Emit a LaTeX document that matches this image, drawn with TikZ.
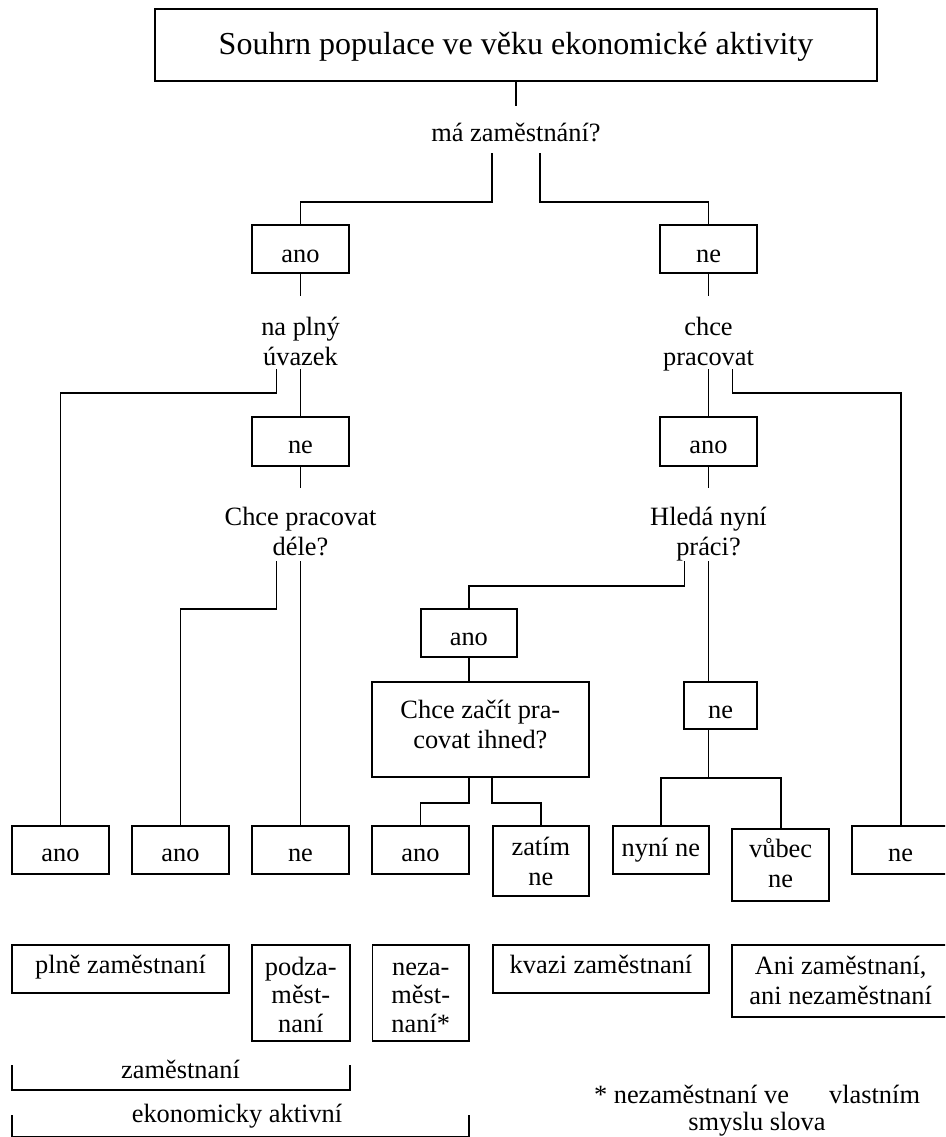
\documentclass[tikz,border=0pt]{standalone}
\usepackage{fontspec}
\setmainfont{Liberation Serif}
\usetikzlibrary{calc}
\newcommand\fBody{\fontsize{26.4}{30}\selectfont}
\newcommand\fBodyT{\fontsize{26.4}{28.5}\selectfont}
\newcommand\fTitle{\fontsize{32}{38}\selectfont}
\newcommand\ml[1]{\begin{tabular}[t]{@{}c@{}}#1\end{tabular}}
% style, name, x1, x2, y1 (top), yb (first baseline), y2 (bottom), text
\newcommand\mkbox[8]{%
 \pgfmathsetmacro\mkW{#4-#3}%
 \pgfmathsetmacro\mkH{#6-#5}%
 \pgfmathsetmacro\mkD{#7-#6}%
 \pgfmathsetmacro\mkX{(#3+#4)/2}%
 \node[#1, minimum width=\mkW pt, text height=\mkH pt, text depth=\mkD pt, anchor=base] (#2) at (\mkX,#6) {#8};}
\tikzset{
 boxst/.style={draw, line width=1.9pt, inner sep=0pt, minimum height=0pt, font=\fBody},
 questst/.style={inner sep=0pt, minimum height=0pt, font=\fBody},
 connst/.style={line width=1.9pt},
}
\begin{document}
\begin{tikzpicture}[x=1pt,y=-1pt]
\useasboundingbox (0,0) rectangle (945,1137);
\clip (0,0) rectangle (945,1137);
% title and top question
\mkbox{boxst, font=\fTitle}{T}{155}{877}{9.3}{55}{81}{Souhrn populace ve věku ekonomické aktivity}
\mkbox{questst}{q1}{466}{566}{106}{142}{153}{má zaměstnání?}
% second level
\mkbox{boxst}{a1}{252}{349}{225}{262}{273}{ano}
\mkbox{boxst}{n1}{660}{757}{225}{262}{273}{ne}
\mkbox{questst}{q2}{252}{349}{296}{335}{369}{\ml{na plný\\úvazek}}
\mkbox{questst}{q4}{660}{757}{296}{335}{369}{\ml{chce\\pracovat}}
\mkbox{boxst}{n2}{252}{349}{417}{453}{466}{ne}
\mkbox{boxst}{a2}{660}{757}{417}{453}{466}{ano}
\mkbox{questst}{q3}{252}{349}{488}{525}{561}{\ml{Chce pracovat\\déle?}}
\mkbox{questst}{q5}{660}{757}{488}{525}{561}{\ml{Hledá nyní\\práci?}}
\mkbox{boxst}{a3}{421}{516.7}{609}{645}{657}{ano}
\mkbox{boxst}{c}{372}{588.7}{681.7}{718}{777}{\ml{Chce začít pra-\\covat ihned?}}
\mkbox{boxst}{n3}{684.3}{756.7}{681.7}{718}{729.3}{ne}
% answer row
\mkbox{boxst}{b1}{12}{109}{825.7}{861.7}{874}{ano}
\mkbox{boxst}{b2}{132}{229}{825.7}{861.7}{874}{ano}
\mkbox{boxst}{b3}{252}{349}{825.7}{861.7}{874}{ne}
\mkbox{boxst}{b4}{372}{469}{825.7}{861.7}{874}{ano}
\mkbox{boxst}{b5}{492.7}{589}{825.7}{855}{896}{\ml{zatím\\ne}}
\mkbox{boxst}{b6}{612.7}{709}{825.7}{856}{874}{nyní ne}
\mkbox{boxst}{b7}{732.3}{829}{829}{857}{900.7}{\ml{vůbec\\ne}}
\mkbox{boxst}{b8}{852.3}{949}{825.7}{861.7}{874}{ne}
% result row
\mkbox{boxst}{r1}{12}{229}{945}{973}{993}{plně zaměstnaní}
\mkbox{boxst, font=\fBodyT}{r2}{252}{349.6}{945}{975}{1041}{\ml{podza-\\měst-\\naní}}
\mkbox{boxst, font=\fBodyT}{r3}{372.5}{469}{945}{975}{1041}{\ml{neza-\\měst-\\naní*}}
\mkbox{boxst}{r4}{493}{709}{945}{973}{993}{kvazi zaměstnaní}
\mkbox{boxst}{r5}{732.4}{949}{945}{974}{1017}{\ml{Ani zaměstnaní,\\ani nezaměstnaní}}
% connectors
\draw[connst] (T.south) -- (q1.north);
\draw[connst] ([xshift=-24pt]q1.south) -- ++(0,49) -| (a1.north);
\draw[connst] ([xshift=24pt]q1.south) -- ++(0,49) -| (n1.north);
\draw[connst] (a1.south) -- (q2.north);
\draw[connst] (n1.south) -- (q4.north);
\draw[connst] ([xshift=-24pt]q2.south) -- ++(0,24) -| (b1.north);
\draw[connst] (q2.south) -- (n2.north);
\draw[connst] (n2.south) -- (q3.north);
\draw[connst] ([xshift=-24pt]q3.south) -- ++(0,48) -| (b2.north);
\draw[connst] (q3.south) -- (b3.north);
\draw[connst] (q4.south) -- (a2.north);
\draw[connst] ([xshift=24pt]q4.south) -- ++(0,24) -| (b8.north);
\draw[connst] (a2.south) -- (q5.north);
\draw[connst] ([xshift=-24pt]q5.south) -- ++(0,24.7) -| (a3.north);
\draw[connst] (q5.south) -- (q5.south |- n3.north);
\draw[connst] (a3.south) -- (a3.south |- c.north);
\draw[connst] (c.south -| a3.south) -- ++(0,25) -| (b4.north);
\draw[connst] (c.south -| b5.west) -- ++(0,25) -| (b5.north);
\draw[connst] (n3.south -| q5.south) -- ++(0,48) coordinate (nj) -| (b6.north);
\draw[connst] (nj) -| (b7.north);
% brackets
\node[questst, anchor=base] (lz) at (180.5,1078) {zaměstnaní};
\draw[connst] (12,1065) -- (12,1090) -- (349.6,1090) -- (349.6,1065);
\node[questst, anchor=base] (le) at (237,1122) {ekonomicky aktivní};
\draw[connst] (12,1115) -- (12,1137) -- (469,1137) -- (469,1115);
% footnote
\node[questst, font=\fontsize{26.4}{27}\selectfont, anchor=base] (fn) at (757,1103)
 {\ml{\makebox[326pt]{* nezaměstnaní ve\hfill vlastním}\\smyslu slova}};
\end{tikzpicture}
\end{document}
